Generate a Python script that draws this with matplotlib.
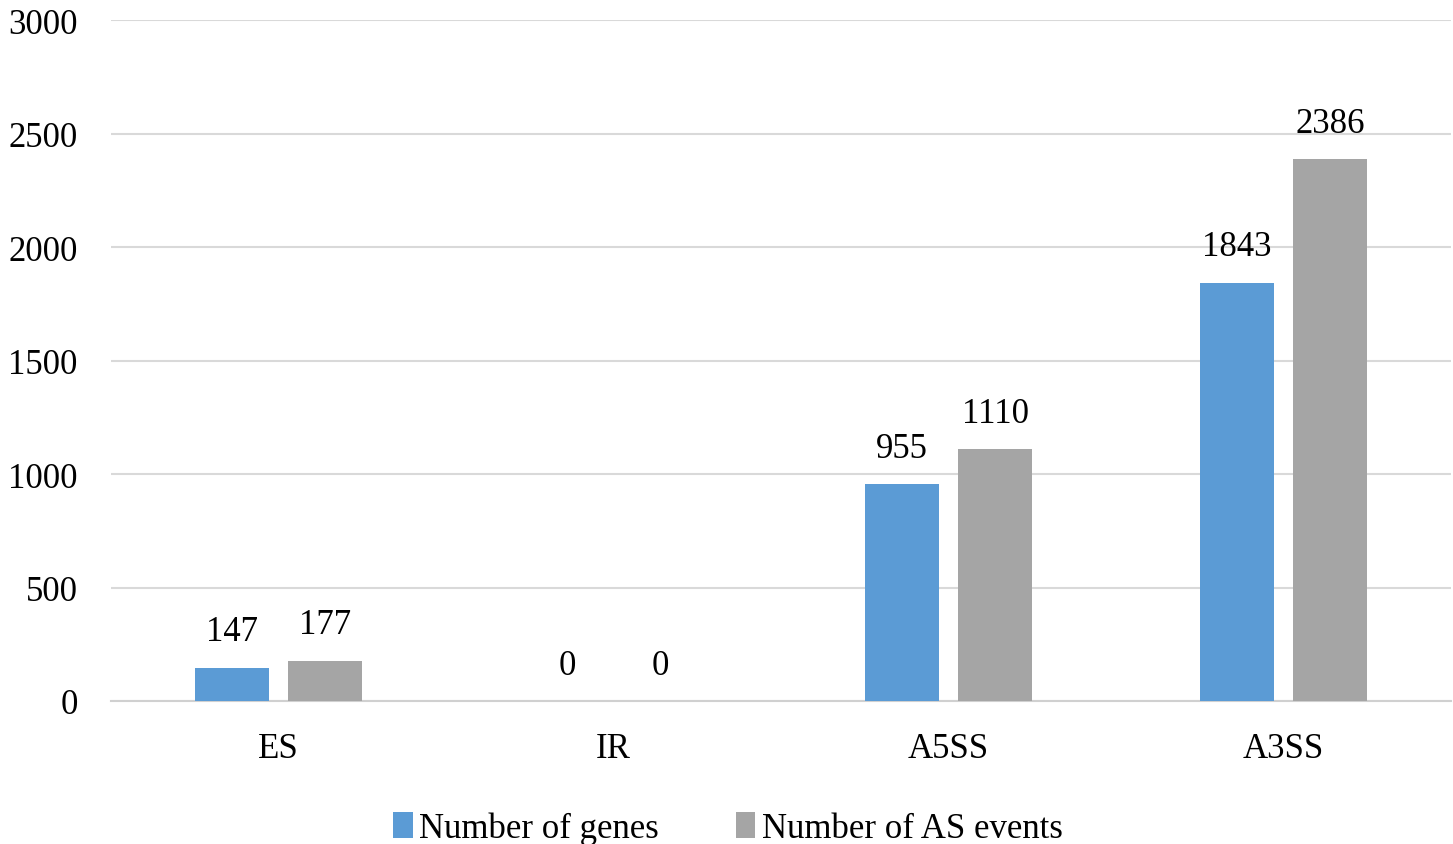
import matplotlib.pyplot as plt
import numpy as np

categories = ['ES', 'IR', 'A5SS', 'A3SS']
genes = [147, 0, 955, 1843]
events = [177, 0, 1110, 2386]
series_names = ['Number of genes', 'Number of AS events']

plt.rcParams['font.family'] = ['Liberation Serif', 'DejaVu Serif']

fig = plt.figure(figsize=(14.53, 8.45), dpi=100)
ax = fig.add_axes([111 / 1453, 1 - 702 / 845, 1340 / 1453, 681 / 845])

x = np.arange(len(categories))
w = 0.221
off = 0.139
b1 = ax.bar(x - off, genes, w, color='#5B9BD5', label=series_names[0], zorder=3)
b2 = ax.bar(x + off, events, w, color='#A5A5A5', label=series_names[1], zorder=3)

for bars, vals in ((b1, genes), (b2, events)):
    for rect, v in zip(bars, vals):
        ax.annotate(str(v), (rect.get_x() + rect.get_width() / 2, v),
                    xytext=(0, 14), textcoords='offset points',
                    ha='center', va='bottom', fontsize=25)

ax.set_xlim(-0.5, 3.5)
ax.set_ylim(0, 3000)
ax.set_yticks(np.arange(0, 3001, 500))
ax.set_xticks(x)
ax.set_xticklabels(categories)
ax.tick_params(axis='both', length=0, labelsize=25)
ax.tick_params(axis='x', pad=22)
ax.tick_params(axis='y', pad=24)
ax.grid(axis='y', color='#D9D9D9', linewidth=1.5, zorder=0)
for s in ['top', 'right', 'left']:
    ax.spines[s].set_visible(False)
ax.spines['bottom'].set_color('#D0D0D0')
ax.spines['bottom'].set_linewidth(1.5)

fig.legend(loc='lower center', bbox_to_anchor=(0.501, -0.038), ncol=2,
           frameon=False, fontsize=25, handlelength=0.55, handleheight=0.8,
           handletextpad=0.2, columnspacing=2.2)

fig.savefig('out.png', dpi=100)
